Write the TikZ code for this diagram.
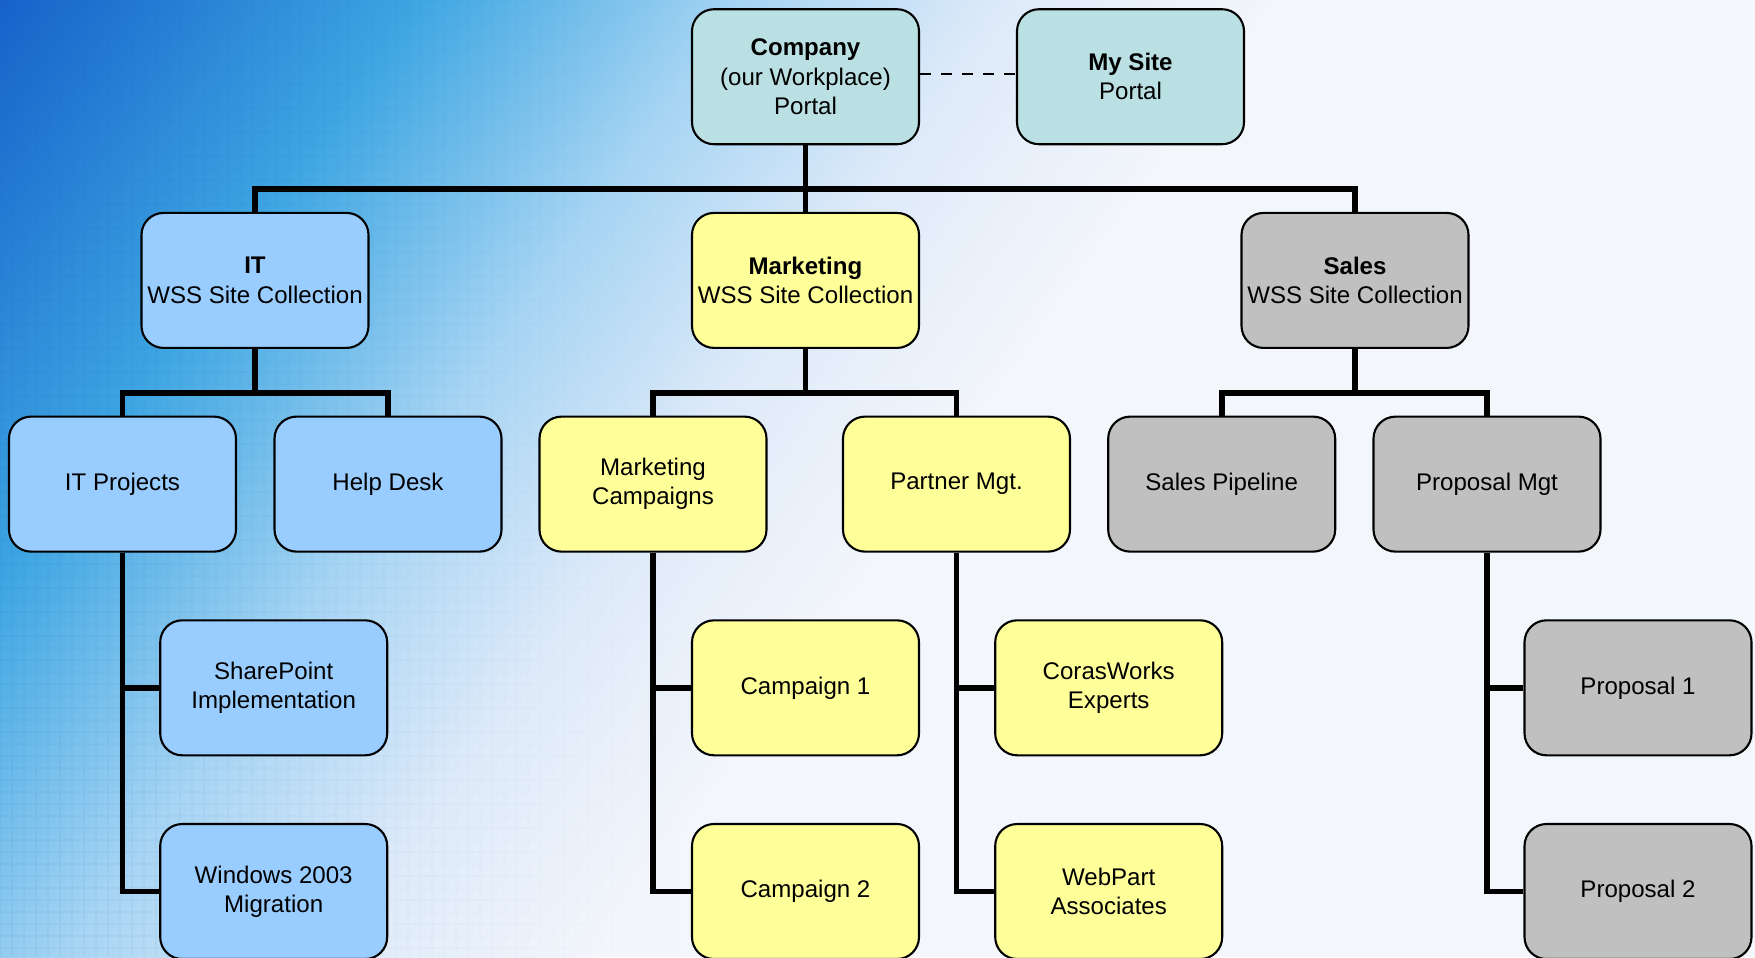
\documentclass[tikz,border=0pt]{standalone}
\usepackage{fontspec}
\setmainfont{Liberation Sans}
\usetikzlibrary{fadings}
\definecolor{portalteal}{RGB}{186,224,227}
\definecolor{itblue}{RGB}{153,204,255}
\definecolor{mktyellow}{RGB}{255,255,153}
\definecolor{salesgrey}{RGB}{192,192,192}
\definecolor{bgdeep}{RGB}{22,98,202}
\definecolor{bgmid}{RGB}{62,166,226}
\definecolor{bglight}{RGB}{165,212,243}
\definecolor{bgpale}{RGB}{222,234,249}
\definecolor{bgwhite}{RGB}{243,246,251}
\tikzset{
  site/.style={draw=black, line width=0.6pt, rounded corners=0.22cm,
    minimum width=2.27cm, minimum height=1.35cm, inner sep=0pt,
    align=center, font=\fontsize{6.85}{8.3}\selectfont},
  portal/.style={site, fill=portalteal},
  itsite/.style={site, fill=itblue},
  mktsite/.style={site, fill=mktyellow},
  salessite/.style={site, fill=salesgrey},
  tie/.style={line width=1.6pt, line join=miter}
}
\begin{document}
\begin{tikzpicture}
  \useasboundingbox (0,0) rectangle (17.55,-9.57);
  \fill[bgwhite] (0,0) rectangle (17.55,-9.57);
  \begin{scope}
    \clip (0,0) rectangle (17.55,-9.57);
    \begin{scope}[transform canvas={rotate=-35.4}]
      \shade[left color=bgdeep, right color=bgmid] (0,-20) rectangle (3.42,20);
      \shade[left color=bgmid, right color=bglight] (3.4,-20) rectangle (6.02,20);
      \shade[left color=bglight, right color=bgpale] (6,-20) rectangle (8.22,20);
      \shade[left color=bgpale, right color=bgwhite] (8.2,-20) rectangle (10.4,20);
    \end{scope}
    \draw[bgdeep, opacity=0.06, step=0.12, path fading=east] (0,0) grid (7,-9.57);
  \end{scope}

  \node[portal] (company) at (8.055,-0.767) {\textbf{Company}\\(our Workplace)\\Portal};
  \node[portal] (mysite) at (11.305,-0.767) {\textbf{My Site}\\Portal};

  \node[itsite] (it) at (2.55,-2.804) {\textbf{IT}\\WSS Site Collection};
  \node[mktsite] (marketing) at (8.055,-2.804) {\textbf{Marketing}\\WSS Site Collection};
  \node[salessite] (sales) at (13.55,-2.804) {\textbf{Sales}\\WSS Site Collection};

  \node[itsite] (itprojects) at (1.225,-4.841) {IT Projects};
  \node[itsite] (helpdesk) at (3.88,-4.841) {Help Desk};
  \node[mktsite] (campaigns) at (6.53,-4.841) {Marketing\\Campaigns};
  \node[mktsite] (partner) at (9.565,-4.841) {Partner Mgt.};
  \node[salessite] (pipeline) at (12.217,-4.841) {Sales Pipeline};
  \node[salessite] (proposalmgt) at (14.87,-4.841) {Proposal Mgt};

  \node[itsite] (sharepoint) at (2.737,-6.878) {SharePoint\\Implementation};
  \node[mktsite] (campaignone) at (8.055,-6.878) {Campaign 1};
  \node[mktsite] (corasworks) at (11.087,-6.878) {CorasWorks\\Experts};
  \node[salessite] (proposalone) at (16.38,-6.878) {Proposal 1};

  \node[itsite] (windows) at (2.737,-8.915) {Windows 2003\\Migration};
  \node[mktsite] (campaigntwo) at (8.055,-8.915) {Campaign 2};
  \node[mktsite] (webpart) at (11.087,-8.915) {WebPart\\Associates};
  \node[salessite] (proposaltwo) at (16.38,-8.915) {Proposal 2};

  \draw[dashed, line width=0.6pt] ([yshift=0.03cm]company.east) -- ([yshift=0.03cm]mysite.west);

  \draw[tie] (company.south) -- (marketing.north);
  \draw[tie] (company.south) -- ++(0,-0.44) -| (it.north);
  \draw[tie] (company.south) -- ++(0,-0.44) -| (sales.north);

  \draw[tie] (it.south) -- ++(0,-0.44) -| (itprojects.north);
  \draw[tie] (it.south) -- ++(0,-0.44) -| (helpdesk.north);
  \draw[tie] (marketing.south) -- ++(0,-0.44) -| (campaigns.north);
  \draw[tie] (marketing.south) -- ++(0,-0.44) -| (partner.north);
  \draw[tie] (sales.south) -- ++(0,-0.44) -| (pipeline.north);
  \draw[tie] (sales.south) -- ++(0,-0.44) -| (proposalmgt.north);

  \draw[tie] (itprojects.south) |- (sharepoint.west);
  \draw[tie] (itprojects.south) |- (windows.west);
  \draw[tie] (campaigns.south) |- (campaignone.west);
  \draw[tie] (campaigns.south) |- (campaigntwo.west);
  \draw[tie] (partner.south) |- (corasworks.west);
  \draw[tie] (partner.south) |- (webpart.west);
  \draw[tie] (proposalmgt.south) |- (proposalone.west);
  \draw[tie] (proposalmgt.south) |- (proposaltwo.west);
\end{tikzpicture}
\end{document}
